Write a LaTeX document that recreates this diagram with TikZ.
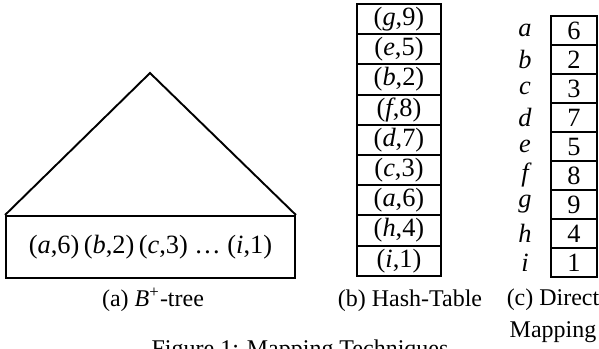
\documentclass[tikz,border=0pt]{standalone}
\usepackage{fontspec}
\setmainfont{Liberation Serif}
\usepackage{tikz}
\usetikzlibrary{positioning}

% one (key,value) pair
\newcommand{\kv}[2]{(\textit{#1},#2)}

\begin{document}
\begin{tikzpicture}[x=0.417pt,y=-0.417pt,line width=0.8pt,
  hashcell/.style={draw,inner sep=0pt,minimum width=35.2pt,minimum height=12.6pt,font=\fontsize{11}{13}\selectfont},
  dircell/.style={draw,inner sep=0pt,minimum width=19.2pt,minimum height=12.1pt,font=\fontsize{11}{13}\selectfont},
  keylabel/.style={inner sep=0pt,font=\fontsize{11}{13}\selectfont\itshape},
  caption/.style={anchor=base,align=center,inner sep=0pt,font=\fontsize{10}{13}\selectfont}]
\useasboundingbox (0,0) rectangle (599,348);
\clip (0,0) rectangle (599,348);

% (a) the tree with its leaf level
\coordinate (apex) at (150,73);
\node[draw,inner sep=0pt,minimum width=120.5pt,minimum height=25.9pt,
  font=\fontsize{11}{13}\selectfont] (leaves) at (150.5,247)
  {\kv{a}{6}\,\kv{b}{2}\,\kv{c}{3} \dots{} \kv{i}{1}};
\draw (leaves.north west) -- (apex) -- (leaves.north east);
\node[caption] (capa) at (153,306) {(a) \textit{B}\textsuperscript{+}-tree};

% (b) hash table
\foreach \k/\v [count=\i] in {g/9,e/5,b/2,f/8,d/7,c/3,a/6,h/4,i/1}
  \node[hashcell] (h\i) at (399,{4+30.2*\i-15.1}) {\kv{\k}{\v}};
\node[caption] (capb) at (410,306) {(b) Hash-Table};

% (c) direct mapping
\foreach \k/\v [count=\i] in {a/6,b/2,c/3,d/7,e/5,f/8,g/9,h/4,i/1} {
  \node[dircell] (d\i) at (574,{16+29*\i-14.5}) {\v};
  \node[keylabel] (k\i) at (525,{16+29*\i-14.5}) {\k};
}
% base of a two-line node is the last line
\node[caption] (capc) at (553,337) {(c) Direct\\Mapping};

\node[caption] (fig) at (300,356) {Figure 1: Mapping Techniques};
\end{tikzpicture}
\end{document}
